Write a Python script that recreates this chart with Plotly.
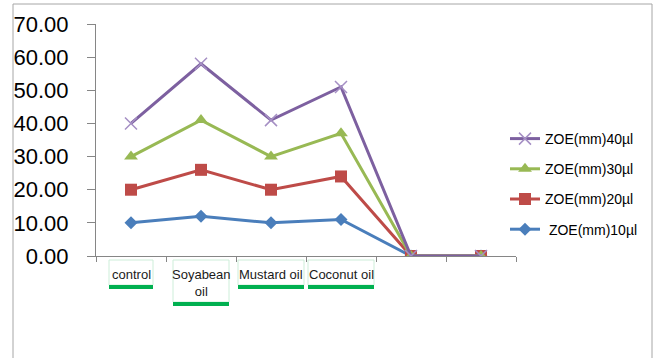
import plotly.graph_objects as go

# Treatments on the x axis (the last two groups carry no label)
categories = ["control", "Soyabean<br>oil", "Mustard oil", "Coconut oil", "", ""]

# Zone of inhibition (mm) per dose
zoe10 = [10, 12, 10, 11, 0, 0]
zoe20 = [20, 26, 20, 24, 0, 0]
zoe30 = [30, 41, 30, 37, 0, 0]
zoe40 = [40, 58, 41, 51, 0, 0]

series_names = [" ZOE(mm)10µl", "ZOE(mm)20µl", "ZOE(mm)30µl", "ZOE(mm)40µl"]
series_values = [zoe10, zoe20, zoe30, zoe40]

colors = ["#4a7ebb", "#be4b48", "#98b954", "#7d60a0"]
marker_colors = ["#4a7ebb", "#be4b48", "#98b954", "#a58fc4"]
symbols = ["diamond", "square", "triangle-up", "x-thin-open"]
sizes = [10, 12, 12, 12]

W, H = 660, 358
L, R, T, B = 96, 144, 24, 102
plot_w = W - L - R
plot_h = H - T - B

xs = list(range(len(categories)))

fig = go.Figure()
for k, (name, vals) in enumerate(zip(series_names, series_values)):
    marker = dict(symbol=symbols[k], size=sizes[k], color=marker_colors[k])
    if symbols[k].endswith("open"):
        marker["line"] = dict(color=marker_colors[k], width=1.5)
    fig.add_trace(go.Scatter(
        x=xs, y=vals, name=name, mode="lines+markers",
        line=dict(color=colors[k], width=3),
        marker=marker,
        legendgroup=name, legendrank=100 - k,
    ))

font = "Liberation Sans, Arial, sans-serif"

# Label boxes under the categories: white card with a green underline
box_w = [44, 56, 66, 66]
shapes = []
annotations = []
for i, lab in enumerate(categories):
    if not lab:
        continue
    lines = lab.count("<br>") + 1
    bottom = -29 - 17 * (lines - 1)
    shapes.append(dict(
        type="rect", xref="x", yref="paper", xsizemode="pixel", ysizemode="pixel",
        xanchor=i, yanchor=0, x0=-box_w[i] / 2, x1=box_w[i] / 2, y0=-4, y1=bottom,
        line=dict(color="#cdeed9", width=1), fillcolor="white", layer="above",
    ))
    shapes.append(dict(
        type="rect", xref="x", yref="paper", xsizemode="pixel", ysizemode="pixel",
        xanchor=i, yanchor=0, x0=-box_w[i] / 2, x1=box_w[i] / 2, y0=bottom, y1=bottom - 4,
        line=dict(width=0), fillcolor="#00b050", layer="above",
    ))
    annotations.append(dict(
        x=i, y=0, xref="x", yref="paper", text=lab, showarrow=False,
        yanchor="top", yshift=-9, font=dict(family=font, size=13, color="#1a1a1a"),
    ))

# Chart frame
shapes.append(dict(
    type="rect", xref="paper", yref="paper",
    x0=(13 - L) / plot_w, x1=(652 - L) / plot_w,
    y0=-(H + 10 - T - plot_h) / plot_h, y1=(plot_h + T - 4) / plot_h,
    line=dict(color="#a6a6a6", width=1), fillcolor="rgba(0,0,0,0)", layer="below",
))

fig.update_layout(
    width=W, height=H,
    margin=dict(l=L, r=R, t=T, b=B),
    paper_bgcolor="white", plot_bgcolor="white",
    font=dict(family=font, color="black"),
    showlegend=True,
    legend=dict(
        x=(505 - L) / plot_w, y=(plot_h + T - 123) / plot_h,
        xanchor="left", yanchor="top",
        font=dict(family=font, size=14, color="black"),
        traceorder="grouped", tracegroupgap=9,
        bgcolor="rgba(0,0,0,0)",
    ),
    xaxis=dict(
        range=[-0.5, len(categories) - 0.5],
        tickvals=[i - 0.5 for i in range(len(categories) + 1)],
        showticklabels=False, ticks="outside", ticklen=5,
        tickcolor="#868686", showline=True, linecolor="#868686", linewidth=1,
        showgrid=False, zeroline=False,
    ),
    yaxis=dict(
        range=[0, 70], dtick=10, tickformat=".2f",
        ticks="outside", ticklen=8, tickcolor="#868686",
        ticklabelstandoff=14,
        tickfont=dict(family=font, size=22, color="black"),
        showline=True, linecolor="#868686", linewidth=1,
        showgrid=False, zeroline=False,
    ),
    shapes=shapes,
    annotations=annotations,
)

fig.write_html("out.html")
